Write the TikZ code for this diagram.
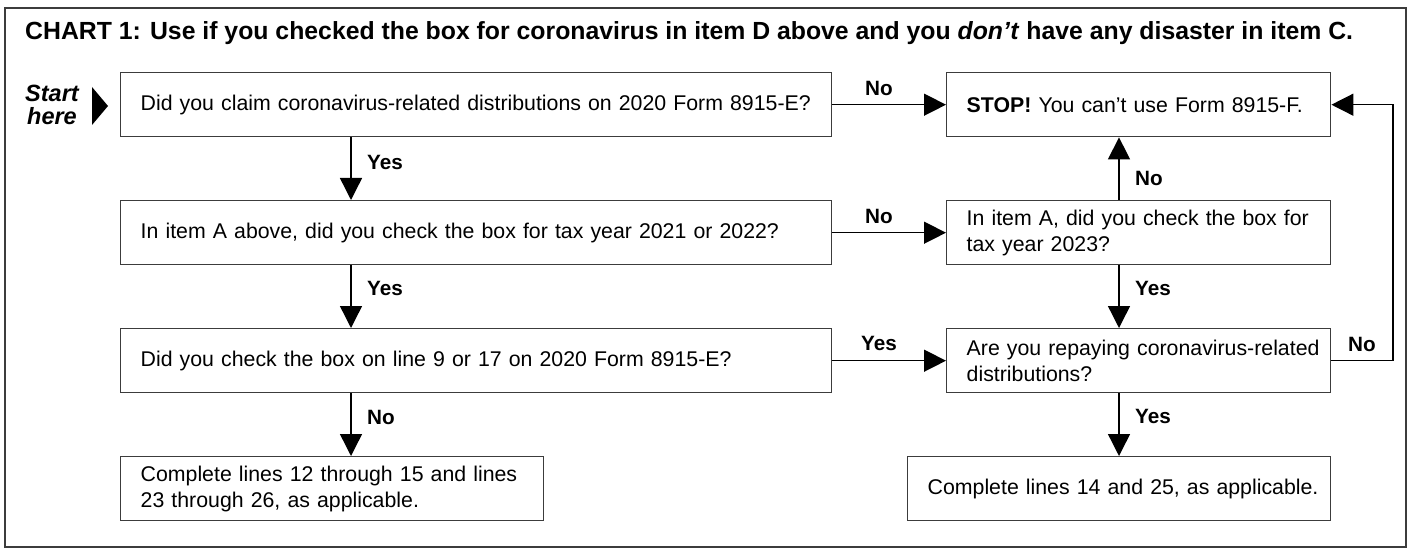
\documentclass[tikz,border=0pt]{standalone}
\usepackage{fontspec}
\setmainfont{Liberation Sans}
\usetikzlibrary{arrows.meta,calc}
\definecolor{boxgray}{HTML}{3C3C3C}
\begin{document}
\begin{tikzpicture}[x=1pt,y=-1pt,
  qbox/.style={draw=boxgray, line width=1.4pt, text width=#1, align=left,
    inner xsep=20pt, inner ysep=0pt, minimum height=64pt, anchor=north west,
    font=\fontsize{21.3}{26}\selectfont},
  arr/.style={line width=1.4pt, -{Triangle[length=22pt,width=22pt]}},
  lab/.style={font=\fontsize{20.7}{24}\selectfont\bfseries, inner sep=0pt},
  every node/.append style={text=black}]
\useasboundingbox (0,0) rectangle (1413,548);
\draw[boxgray, line width=2pt] (5,8) rectangle (1406,546.5);
\node[anchor=base west, inner sep=0pt, font=\fontsize{24.8}{28}\selectfont\bfseries] (title) at (25,40)
  {CHART 1: Use if you checked the box for coronavirus in item D above and you \textit{don’t} have any disaster in item C.};
\node[align=center, inner sep=0pt, font=\fontsize{23.5}{23.5}\selectfont\bfseries\itshape] (start) at (52,105) {Start\\here};
\fill (92,87) -- (108,106) -- (92,125) -- cycle;
\coordinate (xl) at (351,0);
\coordinate (xr) at (1119,0);
\coordinate (loopx) at (1393,0);
\node[qbox=671pt] (q1) at (120,72) {\mbox{Did you claim coronavirus-related distributions on 2020 Form 8915-E?}};
\node[qbox=344pt] (stop) at (946,72) {\mbox{\textbf{STOP!} You can’t use Form 8915-F.}};
\node[qbox=671pt] (q2) at (120,200) {\mbox{In item A above, did you check the box for tax year 2021 or 2022?}};
\node[qbox=344pt] (q4) at (946,200) {\mbox{In item A, did you check the box for}\\\mbox{tax year 2023?}};
\node[qbox=671pt] (q3) at (120,328) {\mbox{Did you check the box on line 9 or 17 on 2020 Form 8915-E?}};
\node[qbox=344pt] (rep) at (946,328) {\mbox{Are you repaying coronavirus-related}\\\mbox{distributions?}};
\node[qbox=383pt] (endl) at (120,456) {\mbox{Complete lines 12 through 15 and lines}\\\mbox{23 through 26, as applicable.}};
\node[qbox=383pt] (endr) at (907,456) {\mbox{Complete lines 14 and 25, as applicable.}};
\draw[arr] (q1.east) -- (stop.west);
\draw[arr] (q2.east) -- (q4.west);
\draw[arr] (q3.east) -- (rep.west);
\draw[arr] (q1.south -| xl) -- (q2.north -| xl);
\draw[arr] (q2.south -| xl) -- (q3.north -| xl);
\draw[arr] (q3.south -| xl) -- (endl.north -| xl);
\draw[arr] (q4.north -| xr) -- (stop.south -| xr);
\draw[arr] (q4.south -| xr) -- (rep.north -| xr);
\draw[arr] (rep.south -| xr) -- (endr.north -| xr);
\draw[arr] (rep.east) -- (rep.east -| loopx) |- (stop.east);
\node[lab] (l1) at (879,88) {No};
\node[lab] (l2) at (879,216) {No};
\node[lab] (l3) at (879,343) {Yes};
\node[lab, anchor=west] (l4) at (367,162) {Yes};
\node[lab, anchor=west] (l5) at (367,288) {Yes};
\node[lab, anchor=west] (l6) at (367,417) {No};
\node[lab, anchor=west] (l7) at (1135,178) {No};
\node[lab, anchor=west] (l8) at (1135,288) {Yes};
\node[lab, anchor=west] (l9) at (1135,416) {Yes};
\node[lab] (l10) at (1362,344) {No};
\end{tikzpicture}
\end{document}
